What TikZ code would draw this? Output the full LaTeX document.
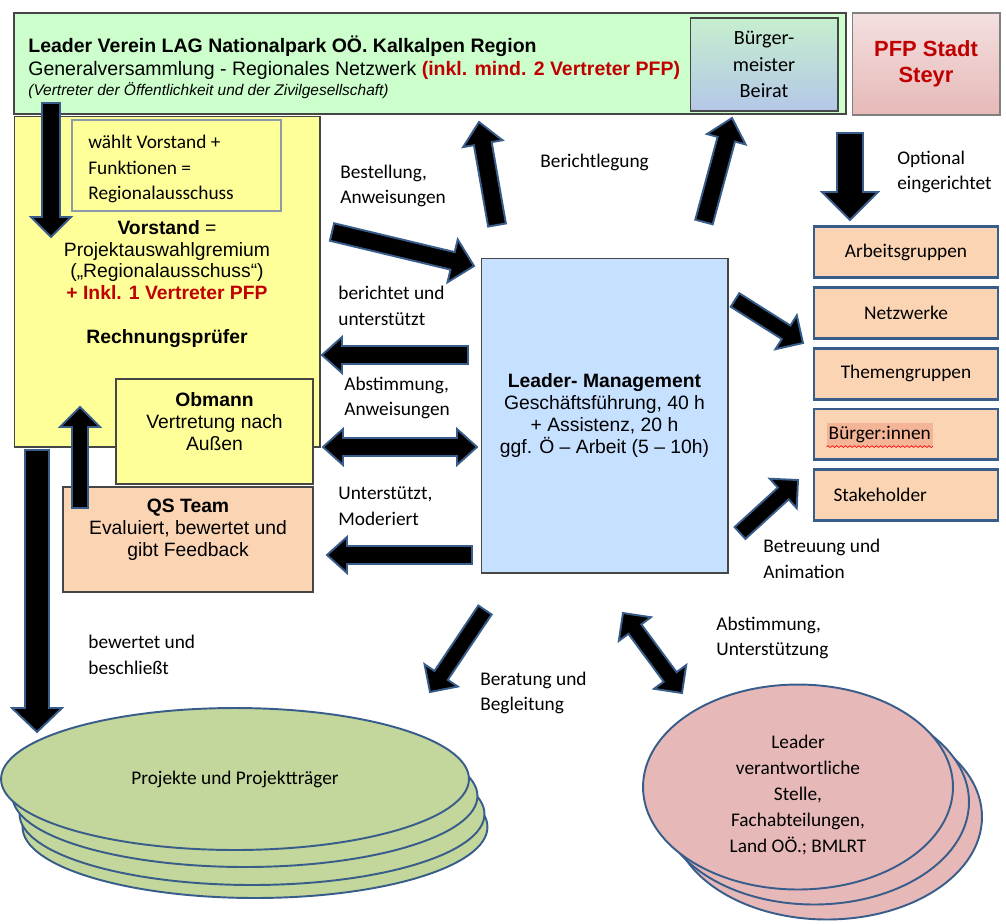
\documentclass[tikz,border=0pt]{standalone}
\usepackage{fontspec}
\setmainfont{Carlito}
\newfontfamily\arialf{Liberation Sans}
\usetikzlibrary{positioning, calc, shapes.geometric, decorations.pathmorphing}
\definecolor{gvgreen}{RGB}{204,255,204}
\definecolor{vsyellow}{RGB}{255,255,153}
\definecolor{qspeach}{RGB}{251,212,180}
\definecolor{lmblue}{RGB}{198,224,255}
\definecolor{prjgreen}{RGB}{195,214,155}
\definecolor{stpink}{RGB}{230,185,184}
\definecolor{edgeblue}{RGB}{56,93,138}
\definecolor{pfpred}{RGB}{192,0,0}
\definecolor{hlsalmon}{RGB}{244,180,150}
\definecolor{boxgray}{RGB}{70,70,70}
\definecolor{bmtop}{RGB}{198,239,206}
\definecolor{bmbottom}{RGB}{180,199,231}

% block arrow: from, to, half shaft width, half head width, head length
\newcommand{\blockarr}[5]{%
  \path ($(#2)!#5!(#1)$) coordinate (ba-h);
  \draw[blockarrow] ($(#1)!#3!90:(#2)$) -- ($(ba-h)!#3!90:(#2)$) -- ($(ba-h)!#4!90:(#2)$) -- (#2)
    -- ($(ba-h)!#4!-90:(#2)$) -- ($(ba-h)!#3!-90:(#2)$) -- ($(#1)!#3!-90:(#2)$) -- cycle;}
\newcommand{\dblarr}[5]{%
  \path ($(#2)!#5!(#1)$) coordinate (ba-h) ($(#1)!#5!(#2)$) coordinate (ba-t);
  \draw[blockarrow] (#1) -- ($(ba-t)!#4!90:(#2)$) -- ($(ba-t)!#3!90:(#2)$) -- ($(ba-h)!#3!90:(#2)$)
    -- ($(ba-h)!#4!90:(#2)$) -- (#2) -- ($(ba-h)!#4!-90:(#2)$) -- ($(ba-h)!#3!-90:(#2)$)
    -- ($(ba-t)!#3!-90:(#2)$) -- ($(ba-t)!#4!-90:(#2)$) -- cycle;}

\begin{document}
\begin{tikzpicture}[x=0.02cm, y=-0.02cm,
        box/.style={rectangle, draw=boxgray, line width=0.6pt, inner sep=0pt, align=center},
        arial/.style={font=\arialf\fontsize{11}{12.5}\selectfont},
        lbl/.style={anchor=west, inner sep=0pt, align=left, font=\fontsize{11}{14.7}\selectfont},
        grp/.style={rectangle, draw=edgeblue, line width=1.6pt, fill=qspeach, minimum width=3.68cm, minimum height=1.02cm, font=\fontsize{11}{13}\selectfont},
        ell/.style={ellipse, draw=edgeblue, line width=1.1pt, inner sep=0pt, align=center, font=\fontsize{11}{14.7}\selectfont},
        blockarrow/.style={fill=black, draw=edgeblue, line width=1.1pt, line join=miter}
    ]
        \useasboundingbox (0,0) rectangle (1006,923);

        % top row
        \node[box, fill=gvgreen, line width=0.8pt, minimum width=16.64cm, minimum height=2.02cm] (gv) at (430,63.5) {};
        \node[anchor=west, inner sep=0pt, align=left, font=\arialf\fontsize{11.1}{13.6}\selectfont] (gvtxt) at (28,67)
            {{\bfseries\fontsize{11.1}{13.6}\selectfont Leader Verein LAG Nationalpark OÖ. Kalkalpen Region}\\
             Generalversammlung - Regionales Netzwerk {\color{pfpred}\bfseries (inkl. mind. 2 Vertreter PFP)}\\[-2.5pt]
             {\itshape\fontsize{8.8}{9}\selectfont (Vertreter der Öffentlichkeit und der Zivilgesellschaft)}};
        \node[box, top color=bmtop, bottom color=bmbottom, minimum width=2.96cm, minimum height=1.86cm,
            font=\fontsize{11.5}{14.9}\selectfont] (bmb) at (764,64.5) {Bürger-\\meister\\Beirat};
        \node[box, draw=gray, top color=stpink!45, bottom color=stpink, minimum width=2.96cm, minimum height=2.04cm,
            font=\arialf\bfseries\fontsize{12.5}{14.5}\selectfont, text=pfpred] (pfp) at (926,64) {PFP Stadt\\Steyr};

        % left column
        \node[box, fill=vsyellow, minimum width=6.12cm, minimum height=6.62cm] (vs) at (167,281.5) {};
        \node[box, draw=edgeblue!50!gray!70, fill=vsyellow, minimum width=4.18cm, minimum height=1.82cm] (wv) at (176.5,165.5) {};
        \node[anchor=west, inner sep=0pt, align=left, font=\fontsize{11}{14.7}\selectfont] (wvtxt) at (88,169)
            {wählt Vorstand +\\Funktionen =\\Regionalausschuss};
        \node[arial, align=center] (vstxt) at (167,284)
            {{\bfseries Vorstand} =\\Projektauswahlgremium\\(„Regionalausschuss“)\\{\color{pfpred}\bfseries + Inkl. 1 Vertreter PFP}\\[12.5pt]{\bfseries Rechnungsprüfer}};
        \node[box, fill=vsyellow, minimum width=3.94cm, minimum height=2.1cm] (ob) at (214.5,431.5) {};
        \node[arial, align=center] (obtxt) at (214.5,422) {{\bfseries Obmann}\\Vertretung nach\\Außen};
        \node[box, fill=qspeach, minimum width=5cm, minimum height=2.1cm] (qs) at (188,539.5) {};
        \node[arial, align=center] (qstxt) at (188,530) {{\bfseries QS Team}\\Evaluiert, bewertet und\\gibt Feedback};

        % centre
        \node[box, fill=lmblue, minimum width=4.94cm, minimum height=6.3cm, arial] (lm) at (604.5,415.5)
            {{\bfseries Leader- Management}\\Geschäftsführung, 40 h\\+ Assistenz, 20 h\\ggf. Ö – Arbeit (5 – 10h)};

        % right column
        \node[grp] (ag) at (906,252) {Arbeitsgruppen};
        \node[grp, below=0.14cm of ag] (nw) {Netzwerke};
        \node[grp, below=0.14cm of nw] (tg) {Themengruppen};
        \node[grp, below=0.14cm of tg] (bi) {};
        \node[anchor=west, fill=hlsalmon, inner xsep=1pt, inner ysep=2pt, font=\fontsize{11}{13}\selectfont] (bitxt) at ($(bi.west)+(14,0)$) {Bürger:innen};
        \draw[red, decorate, decoration={snake, amplitude=0.5pt, segment length=2.5pt}] (bitxt.south west) -- (bitxt.south east);
        \node[grp, below=0.14cm of bi, text width=2.9cm, align=left] (sh) {Stakeholder};

        % stacks
        \node[ell, fill=prjgreen, minimum width=9.3cm, minimum height=2.84cm] (pj4) at (255,827) {};
        \node[ell, fill=prjgreen, minimum width=9.3cm, minimum height=2.84cm] (pj3) at (252,814) {};
        \node[ell, fill=prjgreen, minimum width=9.3cm, minimum height=2.84cm] (pj2) at (245,796) {};
        \node[ell, fill=prjgreen, minimum width=9.36cm, minimum height=2.84cm] (pj1) at (235,779) {Projekte und Projektträger};

        \node[ell, fill=stpink, minimum width=6.2cm, minimum height=4.1cm] (st3) at (827,817) {};
        \node[ell, fill=stpink, minimum width=6.2cm, minimum height=4.1cm] (st2) at (814,802) {};
        \node[ell, fill=stpink, minimum width=6.2cm, minimum height=4.1cm] (st1) at (798,787) {};
        \node[align=center, inner sep=0pt, font=\fontsize{11}{14.7}\selectfont] (sttxt) at (798,795)
            {Leader\\verantwortliche\\Stelle,\\Fachabteilungen,\\Land OÖ.; BMLRT};

        % arrow ends
        \coordinate (gv-s) at (51,103);   \coordinate (vs-n) at (51,237);
        \coordinate (qs-s) at (80,508);   \coordinate (vs-s) at (80,407);
        \coordinate (vs-d) at (37,450);   \coordinate (pj-n) at (37,732);
        \coordinate (vs-e) at (332,232);  \coordinate (lm-nw) at (474,266);
        \coordinate (lm-w1) at (468,355); \coordinate (vs-e1) at (322,355);
        \coordinate (vs-e2) at (323,447); \coordinate (lm-w2) at (477,447);
        \coordinate (lm-w3) at (472,555); \coordinate (qs-e) at (327,555);
        \coordinate (lm-n1) at (497,225); \coordinate (gv-b1) at (479,122);
        \coordinate (lm-n2) at (704,222); \coordinate (gv-b2) at (732,118);
        \coordinate (pfp-s) at (850,133); \coordinate (ag-n) at (850,220);
        \coordinate (lm-e1) at (735,300); \coordinate (nw-w) at (803,343);
        \coordinate (lm-e2) at (740,533); \coordinate (sh-w) at (798,480);
        \coordinate (lm-s1) at (485,610); \coordinate (pj-ne) at (430,692);
        \coordinate (lm-s2) at (623,613); \coordinate (st-nw) at (682,693);

        \blockarr{gv-s}{vs-n}{0.18cm}{0.4cm}{0.4cm}
        \blockarr{qs-s}{vs-s}{0.16cm}{0.4cm}{0.4cm}
        \blockarr{vs-d}{pj-n}{0.24cm}{0.5cm}{0.48cm}
        \blockarr{vs-e}{lm-nw}{0.18cm}{0.44cm}{0.44cm}
        \blockarr{lm-w1}{vs-e1}{0.18cm}{0.36cm}{0.4cm}
        \dblarr{vs-e2}{lm-w2}{0.18cm}{0.36cm}{0.4cm}
        \blockarr{lm-w3}{qs-e}{0.18cm}{0.36cm}{0.4cm}
        \blockarr{lm-n1}{gv-b1}{0.18cm}{0.4cm}{0.44cm}
        \blockarr{lm-n2}{gv-b2}{0.18cm}{0.4cm}{0.44cm}
        \blockarr{pfp-s}{ag-n}{0.26cm}{0.56cm}{0.56cm}
        \blockarr{lm-e1}{nw-w}{0.16cm}{0.4cm}{0.4cm}
        \blockarr{lm-e2}{sh-w}{0.16cm}{0.4cm}{0.4cm}
        \blockarr{lm-s1}{pj-ne}{0.16cm}{0.4cm}{0.4cm}
        \dblarr{lm-s2}{st-nw}{0.16cm}{0.4cm}{0.4cm}

        % labels
        \node[lbl] (lbBest) at (340,186) {Bestellung,\\Anweisungen};
        \node[lbl] (lbBer) at (540,162) {Berichtlegung};
        \node[lbl] (lbOpt) at (897,172) {Optional\\eingerichtet};
        \node[lbl] (lbBerU) at (338,306) {berichtet und\\unterstützt};
        \node[lbl] (lbAbst) at (344,398) {Abstimmung,\\Anweisungen};
        \node[lbl] (lbUnt) at (338,506) {Unterstützt,\\Moderiert};
        \node[lbl] (lbBetr) at (763,559) {Betreuung und\\Animation};
        \node[lbl] (lbBew) at (88,655) {bewertet und\\beschließt};
        \node[lbl] (lbBerat) at (480,693) {Beratung und\\Begleitung};
        \node[lbl] (lbAbU) at (716,638) {Abstimmung,\\Unterstützung};
    \end{tikzpicture}
\end{document}
